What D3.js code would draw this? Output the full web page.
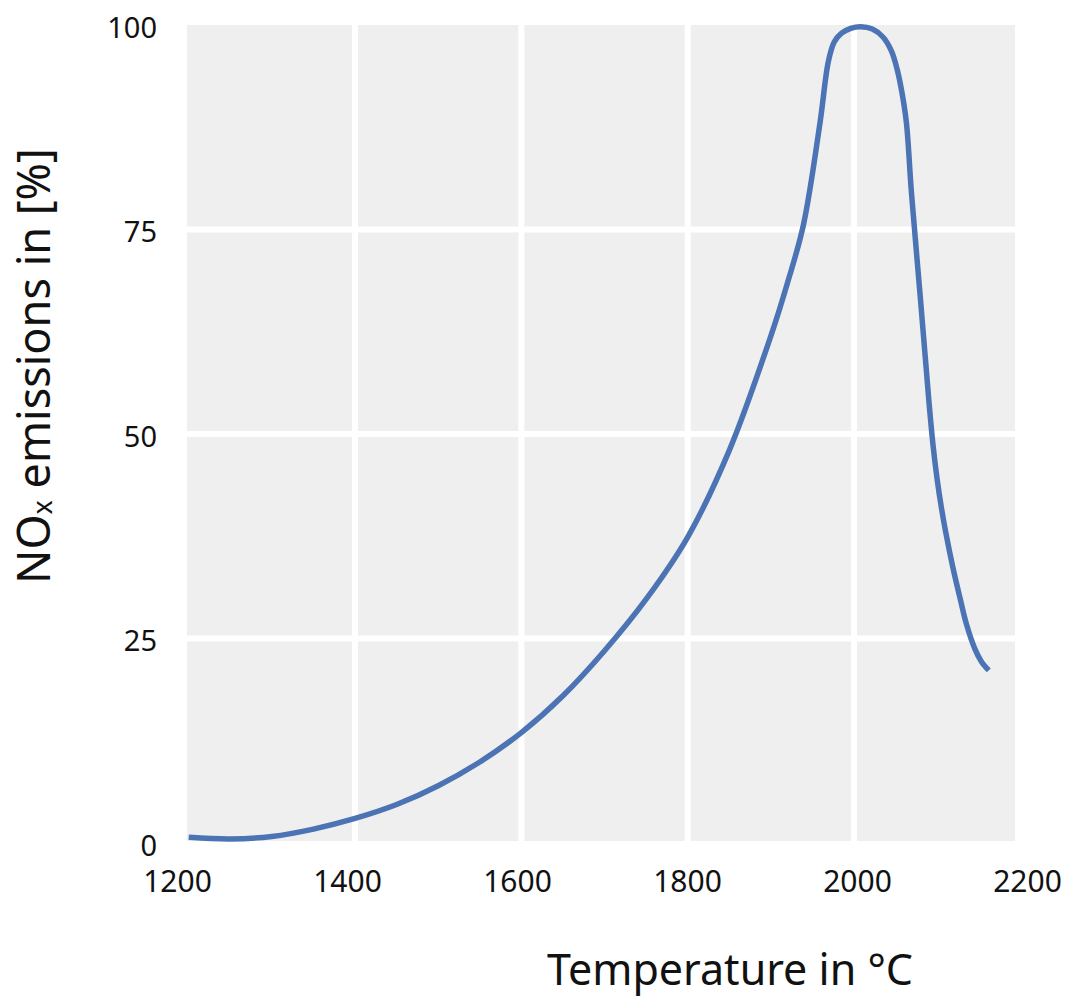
<!DOCTYPE html>
<html>
<head>
<meta charset="utf-8">
<script src="https://cdn.jsdelivr.net/npm/d3@7/dist/d3.min.js"></script>
<style>
    body { margin: 0; background: #fff; }
    text { font-family: "Noto Sans", "Open Sans", sans-serif; fill: #111; }
</style>
</head>
<body>
<div id="chart"></div>
<script>
// temperature (°C) and NOx emissions (%)
var temperatures = [1200, 1250, 1300, 1350, 1400, 1450, 1500, 1550, 1600, 1650, 1700, 1750, 1800, 1850, 1900, 1920, 1939, 1959, 1969, 1976, 1985, 1996, 2008, 2022, 2035, 2045, 2052, 2058, 2063, 2069, 2080, 2090, 2095, 2100, 2105, 2110, 2119, 2128, 2135, 2145, 2153, 2162];
var noxValues = [0.7, 0.5, 0.8, 1.7, 3.0, 4.7, 7.0, 9.9, 13.5, 18.0, 23.5, 29.8, 37.4, 48.0, 62.0, 68.5, 75.5, 88.0, 95.5, 97.9, 99.0, 99.6, 99.8, 99.5, 98.5, 96.8, 94.5, 91.5, 88.0, 79.5, 66.3, 54.0, 48.6, 44.4, 41.0, 38.1, 33.6, 29.7, 26.8, 23.8, 22.2, 21.1];
var xTicks = [1200, 1400, 1600, 1800, 2000, 2200];
var yTicks = [0, 25, 50, 75, 100];

var width = 1077, height = 1002;

var svg = d3.select("#chart").append("svg")
    .attr("width", width)
    .attr("height", height);

// scales
var x = d3.scaleLinear().domain([1200, 2200]).range([188.7, 1020.4]);
var xLabel = d3.scaleLinear().domain([1200, 2200]).range([177, 1027]);   // tick labels are spread a little wider than the grid
var y = d3.scaleLinear().domain([0, 100]).range([843, 25]);

// grey plot background, stops a bit short of 2200 like the original
svg.append("rect")
    .attr("x", 187)
    .attr("y", 25)
    .attr("width", 1015 - 187)
    .attr("height", 841 - 25)
    .attr("fill", "#efefef");

// white grid lines (inner ticks only)
svg.append("g")
    .selectAll("line")
    .data(xTicks.slice(1, -1))
    .enter()
    .append("line")
    .attr("x1", function (d) { return x(d); })
    .attr("x2", function (d) { return x(d); })
    .attr("y1", 25)
    .attr("y2", 841)
    .attr("stroke", "#fff")
    .attr("stroke-width", 6);

svg.append("g")
    .selectAll("line")
    .data(yTicks.slice(1, -1))
    .enter()
    .append("line")
    .attr("x1", 187)
    .attr("x2", 1015)
    .attr("y1", function (d) { return y(d); })
    .attr("y2", function (d) { return y(d); })
    .attr("stroke", "#fff")
    .attr("stroke-width", 6);

// axes without domain lines / tick marks
var xAxis = svg.append("g")
    .attr("transform", "translate(0," + 871 + ")")
    .call(d3.axisBottom(xLabel).tickValues(xTicks).tickSize(0).tickPadding(0).tickFormat(d3.format("d")));
xAxis.select(".domain").remove();
xAxis.selectAll("text")
    .attr("dy", "0.71em")
    .style("font-size", "30px")
    .style("font-family", "'Noto Sans', sans-serif")
    .attr("fill", "#111");

var yAxis = svg.append("g")
    .attr("transform", "translate(" + 157 + ",2)")
    .call(d3.axisLeft(y).tickValues(yTicks).tickSize(0).tickPadding(0));
yAxis.select(".domain").remove();
yAxis.selectAll("text")
    .attr("dy", "0.36em")
    .style("font-size", "29px")
    .style("font-family", "'Noto Sans', sans-serif")
    .attr("fill", "#111");

// the curve
var data = temperatures.map(function (t, i) { return { t: t, v: noxValues[i] }; });
svg.append("path")
    .datum(data)
    .attr("fill", "none")
    .attr("stroke", "#4c74b4")
    .attr("stroke-width", 5.5)
    .attr("stroke-linejoin", "round")
    .attr("d", d3.line()
        .x(function (d) { return x(d.t); })
        .y(function (d) { return y(d.v); })
        .curve(d3.curveCatmullRom.alpha(0.5)));

// axis titles
svg.append("text")
    .attr("x", 730)
    .attr("y", 985)
    .attr("text-anchor", "middle")
    .style("font-size", "43px")
    .text("Temperature in °C");

var yTitle = svg.append("text")
    .attr("transform", "translate(50,366) rotate(-90)")
    .attr("text-anchor", "middle")
    .style("font-size", "45px");
yTitle.append("tspan").text("NO");
yTitle.append("tspan").attr("dy", "0.08em").style("font-size", "27px").text("x");
yTitle.append("tspan").attr("dy", "-0.05em").text(" emissions in [%]");
</script>
</body>
</html>
